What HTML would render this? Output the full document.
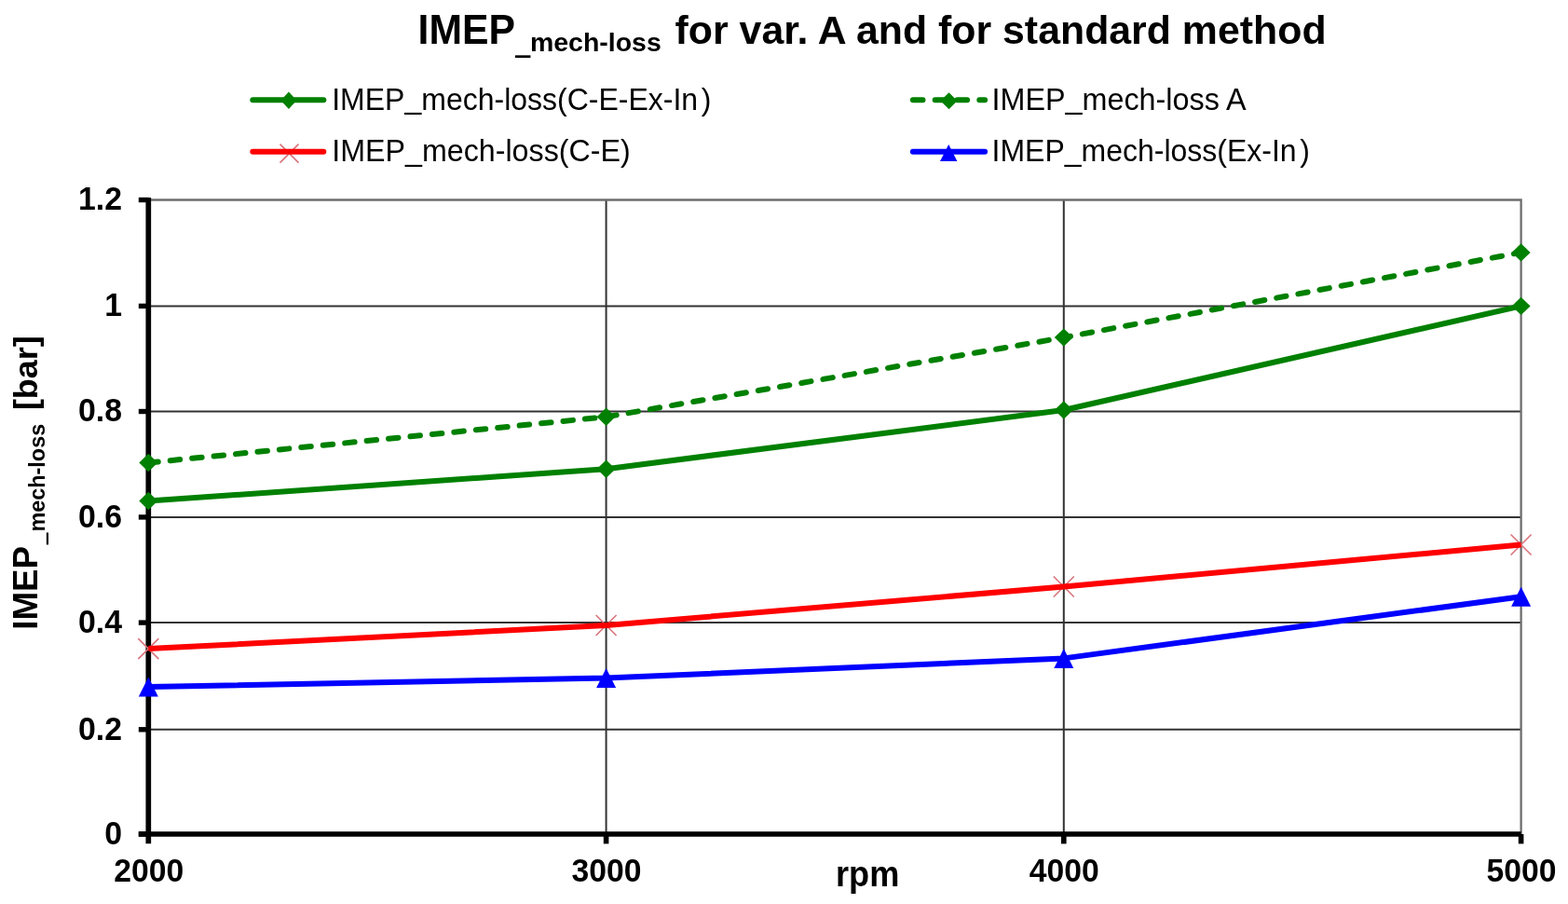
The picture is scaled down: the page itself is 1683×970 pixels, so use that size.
<!DOCTYPE html>
<html><head><meta charset="utf-8"><title>IMEP mech-loss chart</title>
<style>html,body{margin:0;padding:0;background:#fff;width:1683px;height:970px;overflow:hidden}svg{display:block} text{font-family:"Liberation Sans", Arial, sans-serif;fill:#000}</style></head><body>
<svg width="1683" height="970" viewBox="0 0 1683 970">
<rect width="1683" height="970" fill="#fff"/>
<g stroke="#333" stroke-width="2" fill="none">
<line x1="159.3" y1="782.8" x2="1632.6" y2="782.8"/>
<line x1="159.3" y1="668.1" x2="1632.6" y2="668.1"/>
<line x1="159.3" y1="554.9" x2="1632.6" y2="554.9"/>
<line x1="159.3" y1="441.5" x2="1632.6" y2="441.5"/>
<line x1="159.3" y1="328.4" x2="1632.6" y2="328.4"/>
<line x1="650.6" y1="214.5" x2="650.6" y2="895"/>
<line x1="1141.8" y1="214.5" x2="1141.8" y2="895"/>
</g>
<path d="M159.3 214.5H1632.6V895" stroke="#6e6e6e" stroke-width="2.3" fill="none" stroke-linejoin="miter"/>
<g stroke="#000" fill="none">
<line x1="159.3" y1="212" x2="159.3" y2="905.3" stroke-width="5.7"/>
<line x1="148.8" y1="895" x2="1632.6" y2="895" stroke-width="5.4"/>
<line x1="650.6" y1="895" x2="650.6" y2="905.4" stroke-width="5.6"/>
<line x1="1141.8" y1="895" x2="1141.8" y2="905.4" stroke-width="5.6"/>
<line x1="1632.6" y1="895" x2="1632.6" y2="905.4" stroke-width="5.6"/>
<line x1="148.8" y1="895" x2="159.3" y2="895" stroke-width="5.4"/>
<line x1="148.8" y1="782.8" x2="159.3" y2="782.8" stroke-width="5.4"/>
<line x1="148.8" y1="668.1" x2="159.3" y2="668.1" stroke-width="5.4"/>
<line x1="148.8" y1="554.9" x2="159.3" y2="554.9" stroke-width="5.4"/>
<line x1="148.8" y1="441.5" x2="159.3" y2="441.5" stroke-width="5.4"/>
<line x1="148.8" y1="328.4" x2="159.3" y2="328.4" stroke-width="5.4"/>
<line x1="148.8" y1="214.5" x2="159.3" y2="214.5" stroke-width="5.4"/>
</g>
<polyline points="159.3,737 650.6,727.5 1141.8,706.4 1632.6,640.2" fill="none" stroke="#0000ff" stroke-width="6" stroke-linejoin="round"/>
<path d="M148.3 685.1L170.3 707.1M170.3 685.1L148.3 707.1" stroke="#d9737b" stroke-width="1.6" fill="none"/>
<path d="M639.6 660L661.6 682M661.6 660L639.6 682" stroke="#d9737b" stroke-width="1.6" fill="none"/>
<path d="M1130.8 618.5L1152.8 640.5M1152.8 618.5L1130.8 640.5" stroke="#d9737b" stroke-width="1.6" fill="none"/>
<path d="M1621.6 573.5L1643.6 595.5M1643.6 573.5L1621.6 595.5" stroke="#d9737b" stroke-width="1.6" fill="none"/>
<polyline points="159.3,696.1 650.6,671 1141.8,629.5 1632.6,584.5" fill="none" stroke="#ff0000" stroke-width="6" stroke-linejoin="round"/>
<polyline points="159.3,537.5 650.6,503.2 1141.8,440 1632.6,328.4" fill="none" stroke="#008000" stroke-width="6" stroke-linejoin="round"/>
<polyline points="159.3,496.5 650.6,447.3 1141.8,362.1 1632.6,270.9" fill="none" stroke="#008000" stroke-width="6" stroke-linejoin="round" stroke-linecap="round" stroke-dasharray="10.5 13.05"/>
<path d="M159.3 726.5L169.8 747.5L148.8 747.5Z" fill="#0000ff"/>
<path d="M650.6 717L661.1 738L640.1 738Z" fill="#0000ff"/>
<path d="M1141.8 695.9L1152.3 716.9L1131.3 716.9Z" fill="#0000ff"/>
<path d="M1632.6 629.7L1643.1 650.7L1622.1 650.7Z" fill="#0000ff"/>
<path d="M159.3 527.8L169.3 537.5L159.3 547.2L149.3 537.5Z" fill="#008000"/>
<path d="M650.6 493.5L660.6 503.2L650.6 512.9L640.6 503.2Z" fill="#008000"/>
<path d="M1141.8 430.3L1151.8 440L1141.8 449.7L1131.8 440Z" fill="#008000"/>
<path d="M1632.6 318.7L1642.6 328.4L1632.6 338.1L1622.6 328.4Z" fill="#008000"/>
<path d="M159.3 486.8L169.3 496.5L159.3 506.2L149.3 496.5Z" fill="#008000"/>
<path d="M650.6 437.6L660.6 447.3L650.6 457L640.6 447.3Z" fill="#008000"/>
<path d="M1141.8 352.4L1151.8 362.1L1141.8 371.8L1131.8 362.1Z" fill="#008000"/>
<path d="M1632.6 261.2L1642.6 270.9L1632.6 280.6L1622.6 270.9Z" fill="#008000"/>
<line x1="271.3" y1="107.3" x2="347.3" y2="107.3" stroke="#008000" stroke-width="6" stroke-linecap="round"/>
<path d="M309.9 98.6L318.4 107.8L309.9 117L301.4 107.8Z" fill="#008000"/>
<path d="M300.5 154.6L320.5 174.6M320.5 154.6L300.5 174.6" stroke="#d9737b" stroke-width="1.6" fill="none"/>
<line x1="271.3" y1="162.8" x2="347.3" y2="162.8" stroke="#ff0000" stroke-width="6" stroke-linecap="round"/>
<line x1="979.9" y1="107.3" x2="1057.1" y2="107.3" stroke="#008000" stroke-width="6" stroke-linecap="round" stroke-dasharray="10.6 13.2"/>
<path d="M1018.5 99.2L1027.5 108.2L1018.5 117.2L1009.5 108.2Z" fill="#008000"/>
<line x1="979.9" y1="162.8" x2="1057.1" y2="162.8" stroke="#0000ff" stroke-width="6" stroke-linecap="round"/>
<path d="M1018.2 155.1L1027.4 172.9L1009 172.9Z" fill="#0000ff"/>
<text transform="translate(356.22 117.5) scale(1 1.060)" font-size="32.01">IMEP<tspan dy="-1.0">_</tspan><tspan dy="1.0">mech-loss(C-E-Ex-In</tspan></text>
<text transform="translate(752.82 117.5) scale(1 1.060)" font-size="32.01">)</text>
<text transform="translate(356.2 173.1) scale(1 1.039)" font-size="32.23">IMEP<tspan dy="-1.0">_</tspan><tspan dy="1.0">mech-loss(C-E)</tspan></text>
<text transform="translate(1064.49 117.5) scale(1 1.049)" font-size="32.34">IMEP<tspan dy="-1.0">_</tspan><tspan dy="1.0">mech-loss A</tspan></text>
<text transform="translate(1064.52 173.1) scale(1 1.041)" font-size="32.01">IMEP<tspan dy="-1.0">_</tspan><tspan dy="1.0">mech-loss(Ex-In</tspan></text>
<text transform="translate(1395.22 173.1) scale(1 1.041)" font-size="32.01">)</text>
<text transform="translate(448.62 46.7) scale(1 1.051)" font-size="42.73" font-weight="bold">IMEP</text>
<text transform="translate(553.29 53.2) scale(1 2.439)" font-size="28.7" font-weight="bold">_</text>
<text transform="translate(568.95 55.2) scale(1 0.954)" font-size="28.49" font-weight="bold">mech-loss</text>
<text transform="translate(724.56 46.8) scale(1 1.001)" font-size="42.84" font-weight="bold">for var. A and for standard method</text>
<text transform="translate(131 905.75) scale(1 1.05)" font-size="33.8" font-weight="bold" text-anchor="end">0</text>
<text transform="translate(131 793.55) scale(1 1.05)" font-size="33.8" font-weight="bold" text-anchor="end">0.2</text>
<text transform="translate(131 678.85) scale(1 1.05)" font-size="33.8" font-weight="bold" text-anchor="end">0.4</text>
<text transform="translate(131 565.65) scale(1 1.05)" font-size="33.8" font-weight="bold" text-anchor="end">0.6</text>
<text transform="translate(131 452.25) scale(1 1.05)" font-size="33.8" font-weight="bold" text-anchor="end">0.8</text>
<text transform="translate(131 339.15) scale(1 1.05)" font-size="33.8" font-weight="bold" text-anchor="end">1</text>
<text transform="translate(131 225.25) scale(1 1.05)" font-size="33.8" font-weight="bold" text-anchor="end">1.2</text>
<text transform="translate(159.7 946.3) scale(1 1.032)" font-size="33.7" font-weight="bold" text-anchor="middle">2000</text>
<text transform="translate(651 946.3) scale(1 1.032)" font-size="33.7" font-weight="bold" text-anchor="middle">3000</text>
<text transform="translate(1142.2 946.3) scale(1 1.032)" font-size="33.7" font-weight="bold" text-anchor="middle">4000</text>
<text transform="translate(1633 946.3) scale(1 1.032)" font-size="33.7" font-weight="bold" text-anchor="middle">5000</text>
<text transform="translate(896.95 950.8) scale(1 1.074)" font-size="36.19" font-weight="bold">rpm</text>
<text transform="translate(40.1 675.69) rotate(-90) scale(1 1.026)" font-size="36.72" font-weight="bold">IMEP</text>
<text transform="translate(45.2 584.17) rotate(-90) scale(1 2.543)" font-size="22.61" font-weight="bold">_</text>
<text transform="translate(47.5 570.62) rotate(-90) scale(1 1.042)" font-size="23.43" font-weight="bold">mech-loss</text>
<text transform="translate(40.1 440.07) rotate(-90) scale(1 0.992)" font-size="35.88" font-weight="bold">[bar]</text>
</svg></body></html>
